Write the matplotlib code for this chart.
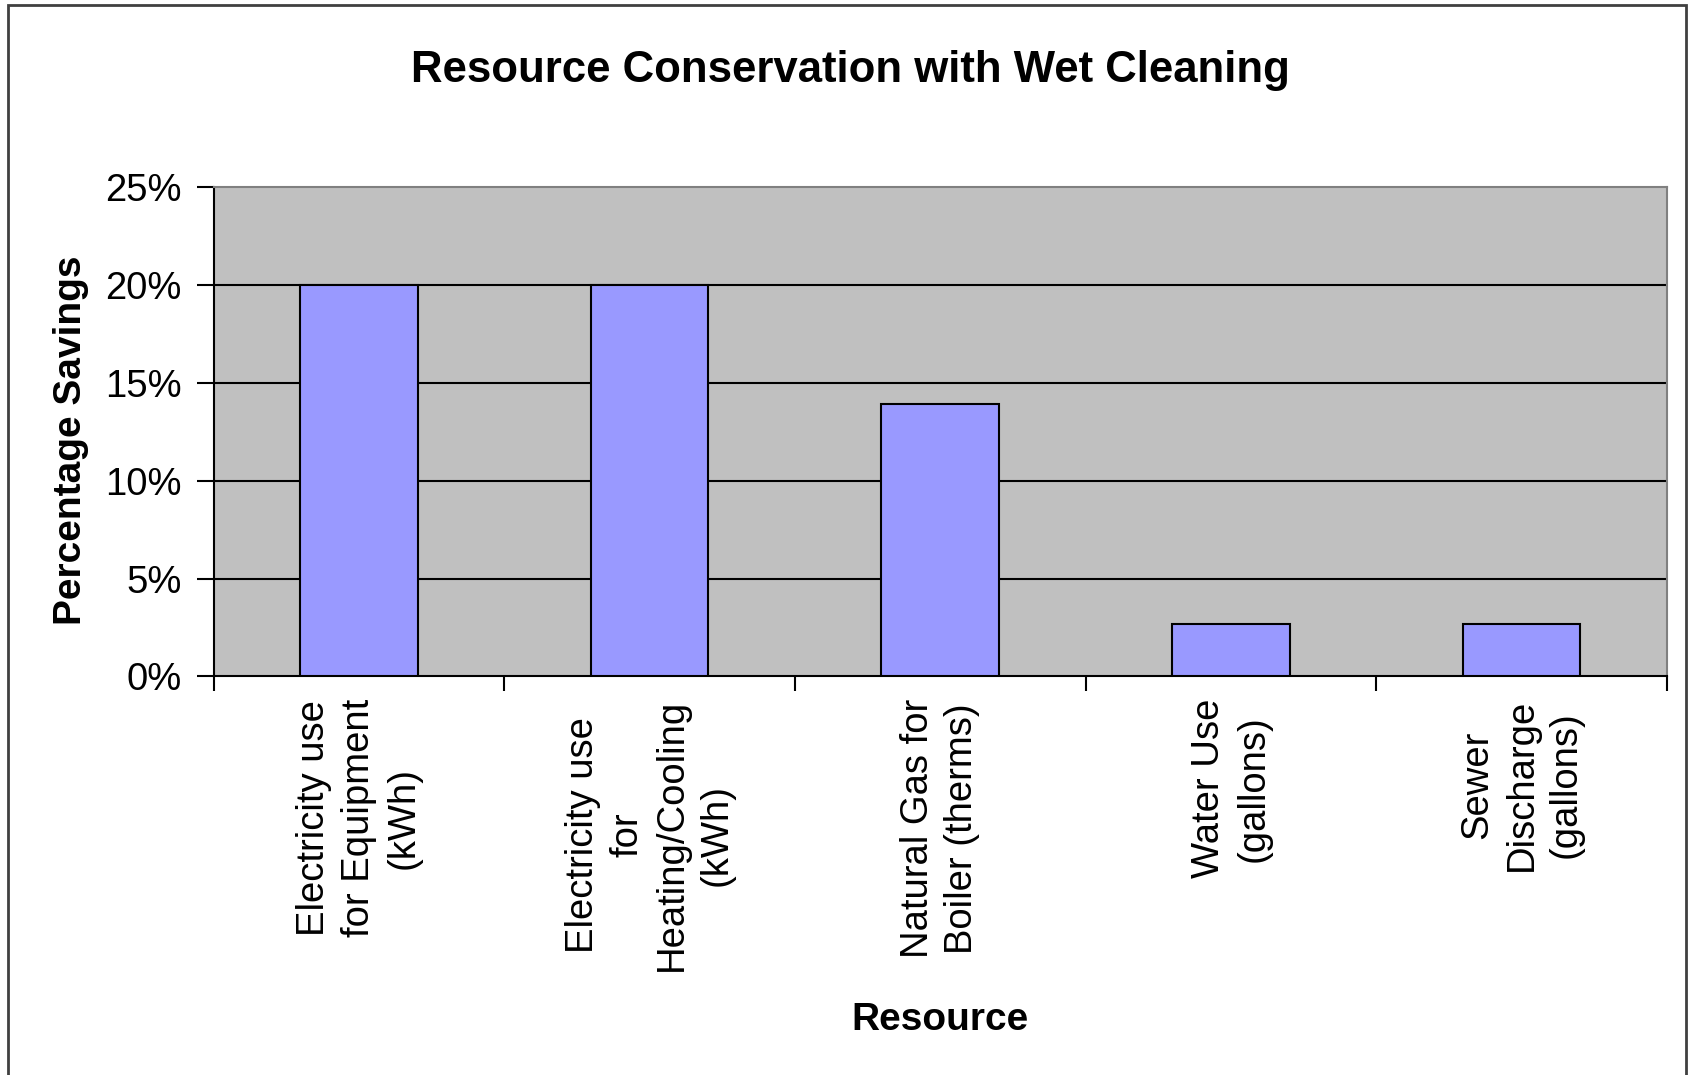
import numpy as np
import matplotlib
matplotlib.use('Agg')
import matplotlib.pyplot as plt
from matplotlib.patches import Rectangle
from matplotlib.ticker import FuncFormatter

plt.rcParams['font.family'] = ['Liberation Sans', 'DejaVu Sans']

# Data
categories = [
    'Electricity use\nfor Equipment\n(kWh)',
    'Electricity use\nfor\nHeating/Cooling\n(kWh)',
    'Natural Gas for\nBoiler (therms)',
    'Water Use\n(gallons)',
    'Sewer\nDischarge\n(gallons)',
]
savings = [0.20, 0.20, 0.139, 0.027, 0.027]
y_ticks = [0, 0.05, 0.10, 0.15, 0.20, 0.25]

fig = plt.figure(figsize=(16.92, 10.75), dpi=100)
ax = fig.add_axes([0.1262, 0.3707, 0.9852 - 0.1262, 0.8263 - 0.3707])

x = np.arange(len(categories))
ax.set_facecolor('#C0C0C0')
ax.bar(x, savings, width=0.405, color='#9999FF', edgecolor='black', linewidth=1.5, zorder=3)

ax.set_xlim(-0.5, len(categories) - 0.5)
ax.set_ylim(0, 0.25)
ax.set_yticks(y_ticks)
ax.yaxis.set_major_formatter(FuncFormatter(lambda v, p: f'{v * 100:.0f}%'))
for v in y_ticks[1:-1]:
    ax.axhline(v, color='black', linewidth=1.5, zorder=2)

# major ticks between categories, labels at the category centres
ax.set_xticks(np.arange(-0.5, len(categories), 1.0))
ax.set_xticklabels([])
ax.set_xticks(x, minor=True)
ax.set_xticklabels(categories, minor=True, rotation=90, fontsize=27.5,
                   multialignment='center', va='top', linespacing=1.3)
ax.tick_params(axis='x', which='minor', length=0, pad=16)
ax.tick_params(axis='x', which='major', direction='out', length=11, width=1.5)
ax.tick_params(axis='y', direction='out', length=12, width=1.5, labelsize=27.5, pad=11)

for side in ['top', 'right']:
    ax.spines[side].set_color('#808080')
    ax.spines[side].set_linewidth(1.5)
for side in ['left', 'bottom']:
    ax.spines[side].set_color('black')
    ax.spines[side].set_linewidth(1.5)

fig.text(0.5026, 0.934, 'Resource Conservation with Wet Cleaning',
         fontsize=31.5, fontweight='bold', ha='center', va='center')
fig.text(0.042, 0.5907, 'Percentage Savings', rotation=90, fontsize=28,
         fontweight='bold', ha='center', va='center')
fig.text(0.5556, 0.051, 'Resource', fontsize=28, fontweight='bold',
         ha='center', va='center')

# chart frame
fig.patches.append(Rectangle((0.005, -0.01), 0.9915, 1.005, transform=fig.transFigure,
                             fill=False, edgecolor='#404040', linewidth=2))

plt.savefig('out.png', dpi=100)
